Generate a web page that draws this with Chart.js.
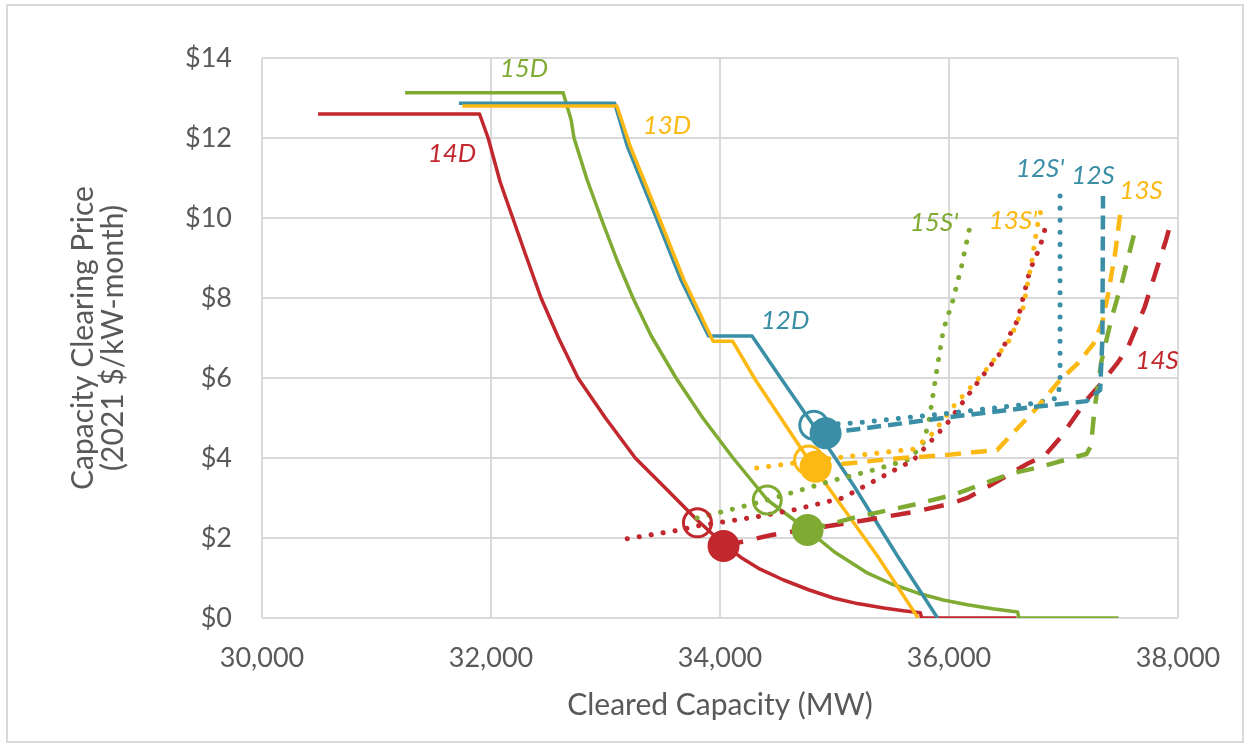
<!DOCTYPE html>
<html>
<head>
<meta charset="utf-8">
<script src="https://cdn.jsdelivr.net/npm/chart.js@4.4.0/dist/chart.umd.min.js"></script>
<style>
  html, body { margin: 0; padding: 0; background: #fff; }
  #wrap { position: relative; width: 1250px; height: 747px; }
</style>
</head>
<body>
<div id="wrap"><canvas id="chart"></canvas></div>
<script>
// demand curves: [cleared MW, $/kW-month]
const demand12 = [[31720,12.87],[33080,12.87],[33190,11.8],[33430,10.1],[33660,8.45],[33900,7.05],[34280,7.05],[34530,6.0],[34820,4.8],[35170,3.3],[35550,1.55],[35900,0]];
const demand13 = [[31750,12.8],[33100,12.8],[33215,11.8],[33455,10.1],[33685,8.45],[33940,6.92],[34110,6.92],[34310,5.95],[34775,3.95],[35380,1.53],[35730,0]];
const demand14 = [[30490,12.6],[31900,12.6],[31975,12.0],[32080,10.9],[32190,10.0],[32300,9.1],[32437,8.0],[32590,7.0],[32760,6.0],[33000,5.0],[33260,4.0],[33540,3.2],[33800,2.45],[34030,1.85],[34180,1.52],[34350,1.22],[34555,0.95],[34780,0.7],[34990,0.5],[35200,0.36],[35430,0.25],[35600,0.18],[35750,0.13],[35760,0],[36590,0]];
const demand15 = [[31250,13.13],[32630,13.13],[32700,12.45],[32725,12.0],[32840,10.95],[32961,10.0],[33100,8.95],[33240,8.0],[33400,7.05],[33616,6.0],[33850,5.0],[34114,4.0],[34415,2.95],[34765,2.2],[35000,1.65],[35290,1.12],[35500,0.85],[35730,0.62],[35950,0.45],[36160,0.33],[36380,0.23],[36600,0.15],[36610,0],[37480,0]];

// supply curves (S dashed, S' dotted)
const supply12 = [[34922,4.62],[35200,4.72],[36000,5.02],[36750,5.28],[37200,5.42],[37320,5.7],[37340,7.0],[37345,10.55]];
const supply12p = [[34820,4.82],[35200,4.88],[36000,5.12],[36700,5.35],[36950,5.5],[36970,5.9],[36970,10.55]];
const supply13 = [[34835,3.78],[35500,3.98],[36000,4.08],[36420,4.2],[36750,5.2],[36970,5.95],[37120,6.35],[37260,6.85],[37340,7.4],[37390,8.1],[37450,9.1],[37500,10.2]];
const supply13p = [[34320,3.75],[34775,3.92],[35300,4.1],[35690,4.22],[35860,4.62],[36035,5.28],[36300,6.12],[36530,6.95],[36650,7.78],[36725,8.95],[36770,9.78],[36800,10.15]];
const supply14 = [[34031,1.8],[34440,2.07],[35280,2.45],[35690,2.65],[36000,2.85],[36160,3.0],[36400,3.38],[36680,3.85],[36840,4.07],[36970,4.5],[37080,4.95],[37200,5.45],[37320,5.83],[37470,6.37],[37560,6.75],[37710,7.78],[37775,8.37],[37830,8.87],[37890,9.4],[37950,10.0]];
const supply14p = [[33190,1.98],[33650,2.2],[33800,2.3],[34320,2.53],[34640,2.7],[35070,3.0],[35460,3.6],[35690,3.95],[35980,4.85],[36245,5.87],[36446,6.62],[36600,7.45],[36707,8.7],[36795,9.28],[36860,9.95]];
const supply15 = [[34765,2.2],[35200,2.53],[35690,2.83],[36040,3.08],[36530,3.6],[36800,3.78],[37200,4.1],[37240,4.3],[37270,5.2],[37330,6.4],[37420,7.5],[37520,8.5],[37630,9.75]];
const supply15p = [[33800,2.5],[34150,2.75],[34413,2.95],[35000,3.45],[35340,3.7],[35660,3.97],[35780,4.4],[35830,5.0],[35880,5.95],[35950,7.2],[36030,7.9],[36110,8.8],[36180,9.75]];

// clearing points (12, 13, 14, 15)
const clearedS = [[34922,4.62],[34835,3.78],[34031,1.8],[34765,2.2]];
const clearedSp = [[34819,4.82],[34774,3.95],[33803,2.38],[34413,2.95]];

// curve labels
const curveLabels = ['15D','14D','13D','12D',"12S'",'12S','13S',"15S'","13S'",'14S'];
const labelPos = [[32288,13.73],[31659,11.6],[33537,12.3],[34568,7.43],[36795,11.23],[37258,11.05],[37677,10.68],[35869,9.88],[36559,9.93],[37817,6.43]];

const RED = '#C1272D', GREEN = '#7FAB33', YELLOW = '#FDB913', BLUE = '#3A8FA6';
const labelColors = [GREEN, RED, YELLOW, BLUE, BLUE, BLUE, YELLOW, GREEN, YELLOW, RED];
const markerColors = [BLUE, YELLOW, RED, GREEN];

const pts = a => a.map(p => ({x: p[0], y: p[1]}));

function demandLine(data, color) {
    return { data: pts(data), borderColor: color, borderWidth: 3.5, borderJoinStyle: 'round', pointRadius: 0, showLine: true, tension: 0 };
}
function dashLine(data, color, dash) {
    return { data: pts(data), borderColor: color, borderWidth: 4.5, borderDash: dash, pointRadius: 0, showLine: true, tension: 0 };
}
function dotLine(data, color) {
    return { data: pts(data), borderColor: color, borderWidth: 5, borderDash: [0.1, 12], borderCapStyle: 'round', pointRadius: 0, showLine: true, tension: 0 };
}

const frame = {
    id: 'frame',
    beforeDraw(chart) {
        const ctx = chart.ctx;
        ctx.save();
        ctx.fillStyle = '#fff';
        ctx.fillRect(0, 0, chart.width, chart.height);
        ctx.strokeStyle = '#D9D9D9';
        ctx.lineWidth = 2;
        ctx.strokeRect(7, 5, 1236, 737);
        ctx.restore();
    }
};

const curveText = {
    id: 'curveText',
    beforeDatasetsDraw(chart) {
        const { ctx, scales: { x, y } } = chart;
        ctx.save();
        ctx.font = 'italic 26px Lato';
        ctx.textAlign = 'center';
        ctx.textBaseline = 'middle';
        curveLabels.forEach((t, i) => {
            ctx.fillStyle = labelColors[i];
            ctx.fillText(t, x.getPixelForValue(labelPos[i][0]), y.getPixelForValue(labelPos[i][1]));
        });
        ctx.restore();
    }
};

const ctx = document.getElementById('chart');
new Chart(ctx, {
    type: 'scatter',
    data: {
        datasets: [
            { data: pts(clearedS), pointRadius: 16, pointBorderWidth: 0, pointBackgroundColor: markerColors, pointBorderColor: markerColors, showLine: false },
            { data: pts(clearedSp), pointRadius: 14, pointBorderWidth: 3, pointBackgroundColor: 'rgba(0,0,0,0)', pointBorderColor: markerColors, showLine: false },
            dashLine(supply12, BLUE, [14, 7]),
            dashLine(supply13, YELLOW, [16, 10]),
            dashLine(supply15, GREEN, [18, 13]),
            dashLine(supply14, RED, [20, 14]),
            dotLine(supply12p, BLUE),
            dotLine(supply13p, YELLOW),
            dotLine(supply14p, RED),
            dotLine(supply15p, GREEN),
            demandLine(demand13, YELLOW),
            demandLine(demand12, BLUE),
            demandLine(demand15, GREEN),
            demandLine(demand14, RED)
        ]
    },
    options: {
        responsive: true,
        maintainAspectRatio: false,
        animation: false,
        layout: { padding: { left: 0, right: 72, top: 58, bottom: 0 } },
        plugins: {
            legend: { display: false },
            tooltip: { enabled: false }
        },
        scales: {
            x: {
                type: 'linear',
                min: 30000,
                max: 38000,
                afterFit: s => { s.height = 129; },
                ticks: {
                    stepSize: 2000,
                    padding: 24,
                    color: '#595959',
                    font: { family: 'Lato', size: 27 },
                    callback: v => v.toLocaleString('en-US')
                },
                grid: { color: '#D9D9D9', lineWidth: 2, drawTicks: false },
                border: { display: false },
                title: {
                    display: true,
                    text: 'Cleared Capacity (MW)',
                    color: '#595959',
                    font: { family: 'Lato', size: 30, lineHeight: 1.2 },
                    padding: { top: 0, bottom: 24 }
                }
            },
            y: {
                min: 0,
                max: 14,
                afterFit: s => { s.width = 262; },
                ticks: {
                    stepSize: 2,
                    padding: 30,
                    color: '#595959',
                    font: { family: 'Lato', size: 27 },
                    callback: v => '$' + v
                },
                grid: { color: '#D9D9D9', lineWidth: 2, drawTicks: false },
                border: { display: false },
                title: {
                    display: true,
                    text: ['Capacity Clearing Price', '(2021 $/kW-month)'],
                    color: '#595959',
                    font: { family: 'Lato', size: 30, lineHeight: 1.0 },
                    padding: { top: 68, bottom: 0 }
                }
            }
        }
    },
    plugins: [frame, curveText]
});
</script>
</body>
</html>
